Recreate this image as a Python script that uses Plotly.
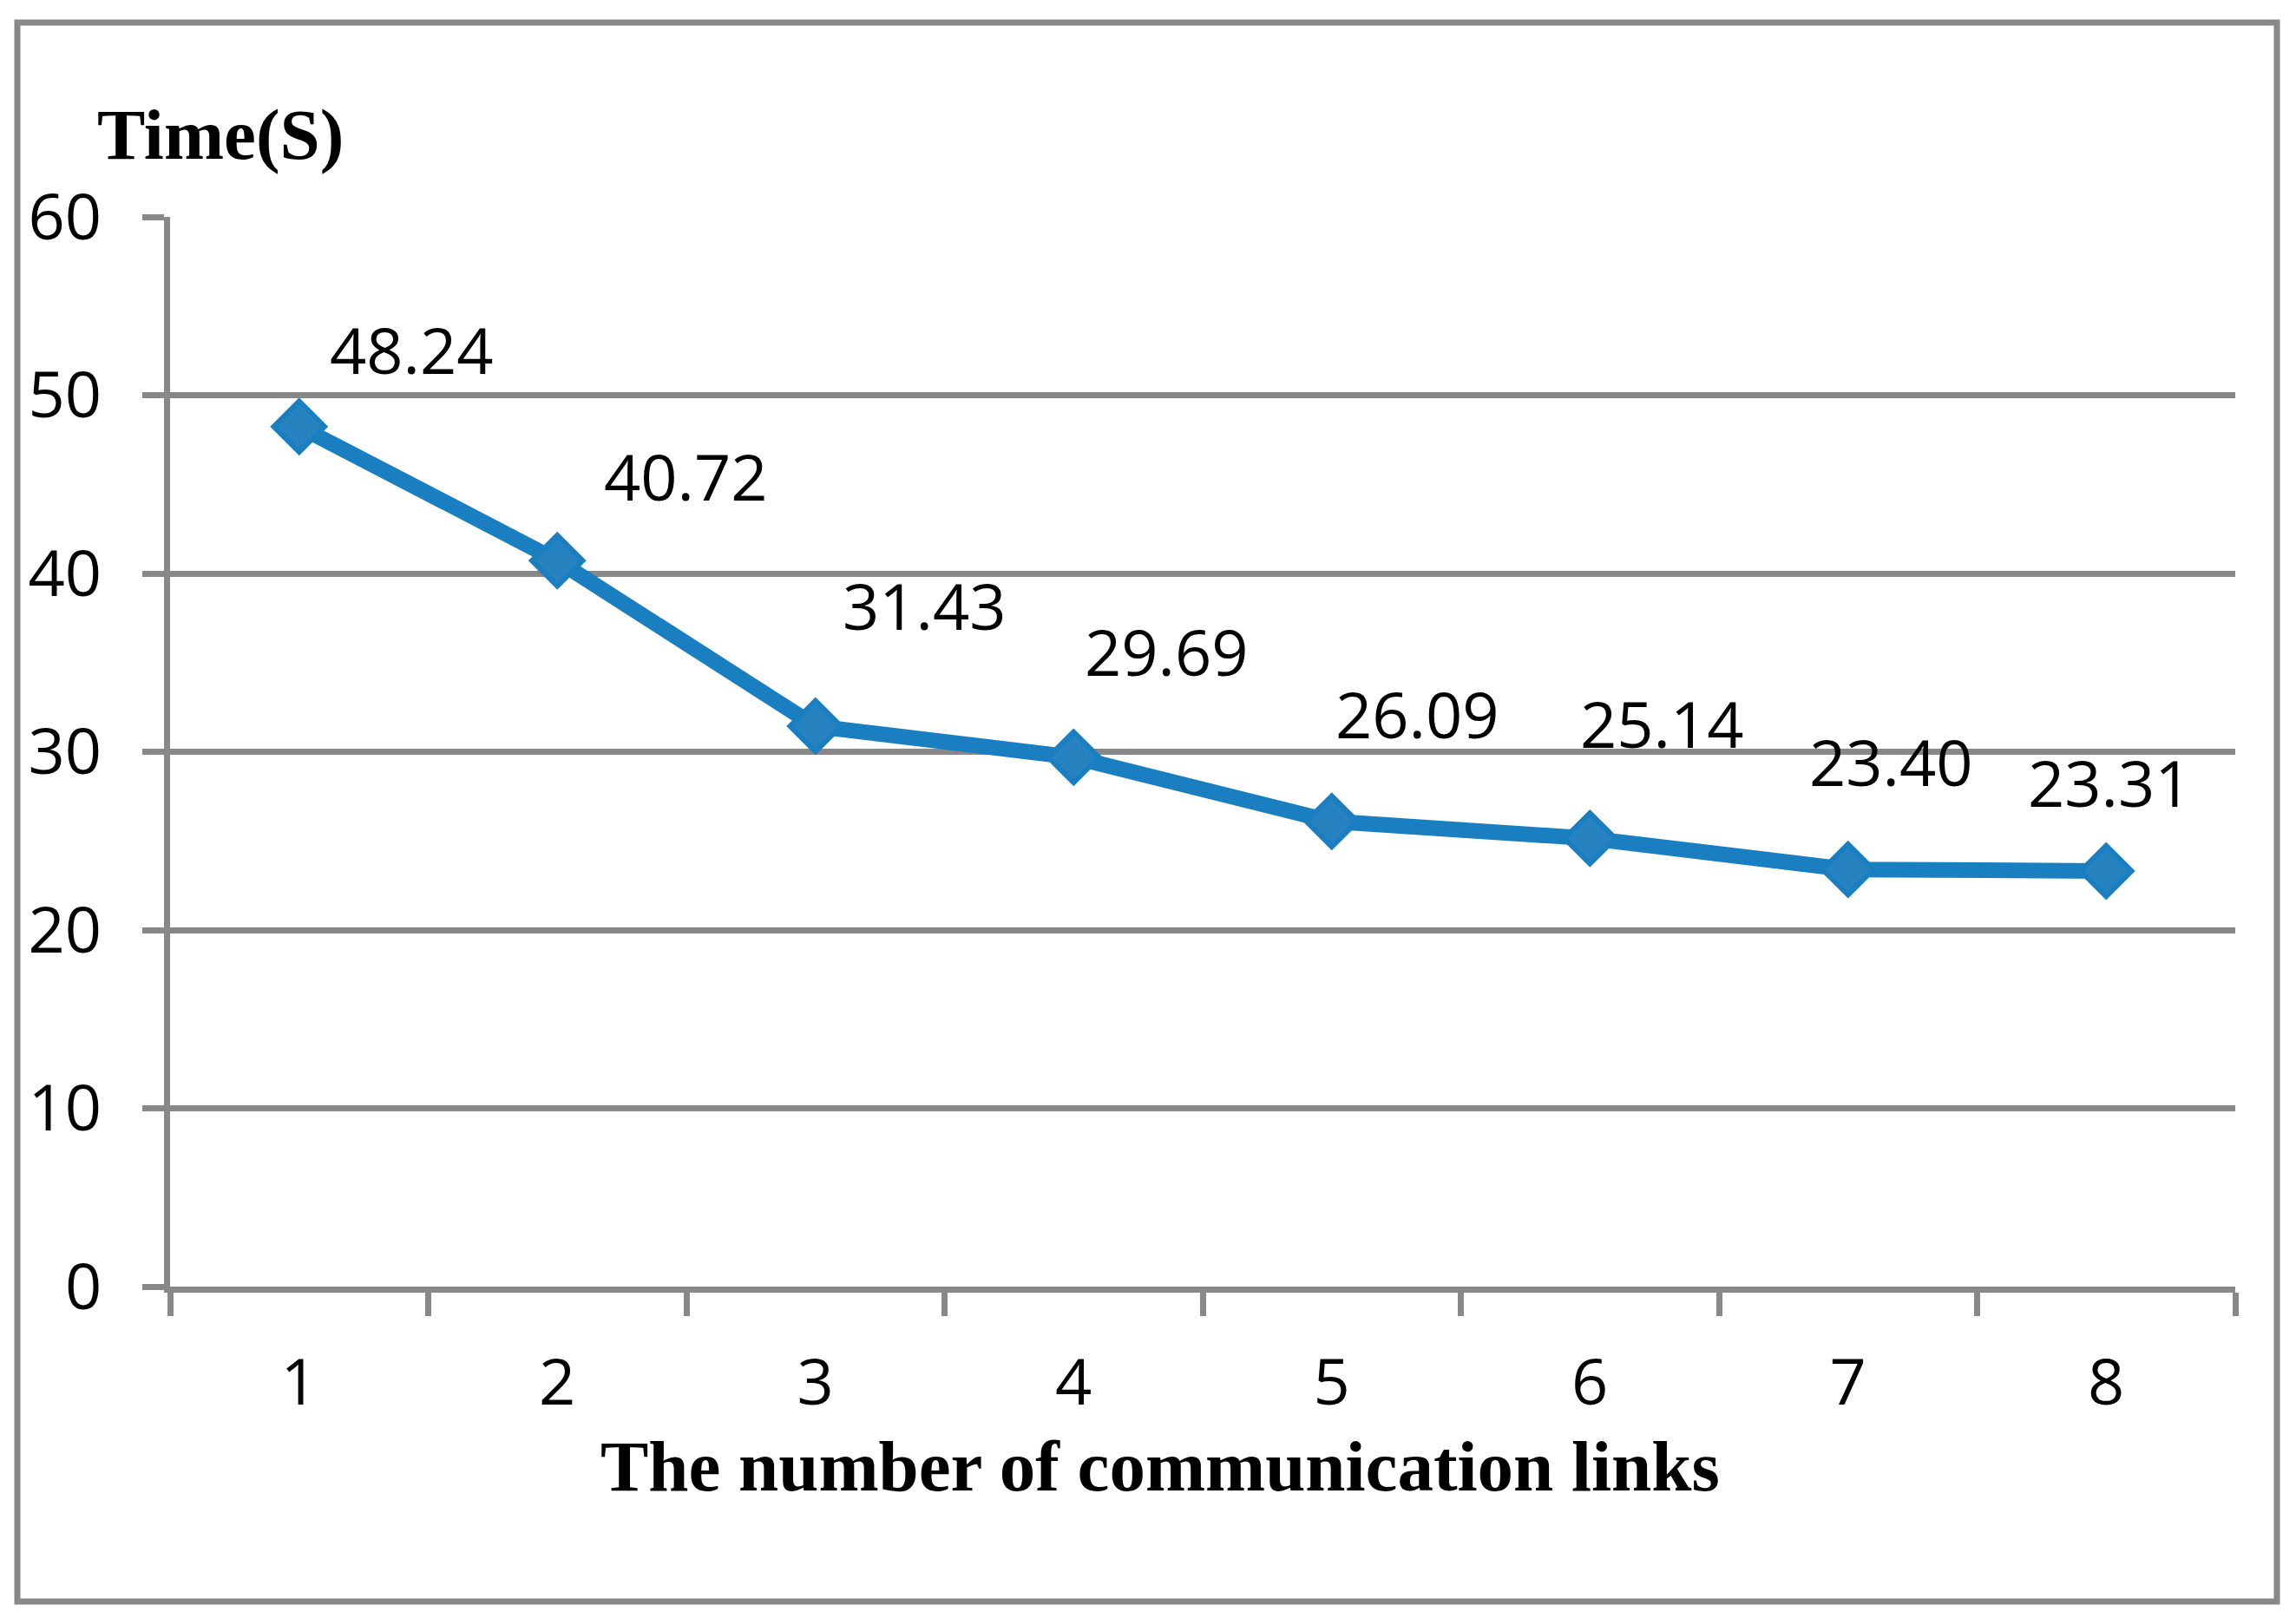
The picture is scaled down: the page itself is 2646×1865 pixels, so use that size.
import plotly.graph_objects as go

# ---- data ----
categories = ["1", "2", "3", "4", "5", "6", "7", "8"]
times = [48.24, 40.72, 31.43, 29.69, 26.09, 25.14, 23.40, 23.31]
value_labels = ["48.24", "40.72", "31.43", "29.69", "26.09", "25.14", "23.40", "23.31"]
y_ticks = [0, 10, 20, 30, 40, 50, 60]
x_title = "The number of communication links"
y_title = "Time(S)"

# ---- layout constants ----
OFF = 8  # browser body margin
W, H = 2646 - OFF, 1865 - OFF
ML, MR, MT, MB = 196 - OFF, 70, 250 - OFF, 382
PW, PH = W - ML - MR, H - MT - MB
GRAY = "#888888"
BLUE = "#1a7fc1"
MARK = "#2683c0"
LW = 7
NUM_FONT = dict(family="Open Sans", size=74, color="black")
TITLE_FONT = dict(family="Liberation Serif", size=83, color="black")

# label offsets in pixels (as placed in original chart)
label_dx = [130, 148, 126, 107, 99, 83, 50, 4]
label_dy = [89, 98, 140, 122, 124, 133, 125, 102]


def px_x(px):
    return (px - OFF - ML) / PW


def px_y(py):
    return (H - MB - (py - OFF)) / PH


fig = go.Figure()
fig.add_trace(go.Scatter(
    x=categories, y=times, mode="lines+markers",
    line=dict(color=BLUE, width=18),
    marker=dict(symbol="diamond", size=45, color=MARK,
                line=dict(color=BLUE, width=6)),
    showlegend=False, hoverinfo="skip",
))

for i, (v, t, dx, dy) in enumerate(zip(times, value_labels, label_dx, label_dy)):
    fig.add_annotation(x=i, y=v, text=t, showarrow=False, xanchor="center",
                       yanchor="middle", xshift=dx, yshift=dy, font=NUM_FONT)

fig.add_annotation(xref="paper", yref="paper", x=px_x(110), y=px_y(155),
                   text="<b>%s</b>" % y_title, showarrow=False,
                   xanchor="left", yanchor="middle", font=TITLE_FONT)
fig.add_annotation(xref="paper", yref="paper", x=px_x(1337), y=px_y(1690),
                   text="<b>%s</b>" % x_title, showarrow=False,
                   xanchor="center", yanchor="middle", font=TITLE_FONT)

fig.add_shape(type="rect", xref="paper", yref="paper",
              x0=px_x(20), x1=px_x(2624), y0=px_y(26), y1=px_y(1846),
              line=dict(color=GRAY, width=LW), layer="below")

fig.update_layout(
    width=W, height=H,
    margin=dict(l=ML, r=MR, t=MT, b=MB, pad=0),
    paper_bgcolor="white", plot_bgcolor="white",
    xaxis=dict(type="category", range=[-0.5, len(categories) - 0.5],
               tickson="boundaries", ticks="outside",
               ticklen=27, tickwidth=LW, tickcolor=GRAY,
               showline=True, linecolor=GRAY, linewidth=LW,
               showgrid=False, zeroline=False, tickfont=NUM_FONT,
               ticklabelstandoff=40),
    yaxis=dict(range=[0, 60], tickvals=y_ticks, ticks="outside",
               ticklen=25, tickwidth=LW, tickcolor=GRAY,
               showline=True, linecolor=GRAY, linewidth=LW,
               showgrid=True, gridcolor=GRAY, gridwidth=LW,
               zeroline=False, tickfont=NUM_FONT, ticklabelstandoff=32),
)

fig.write_html("out.html")
